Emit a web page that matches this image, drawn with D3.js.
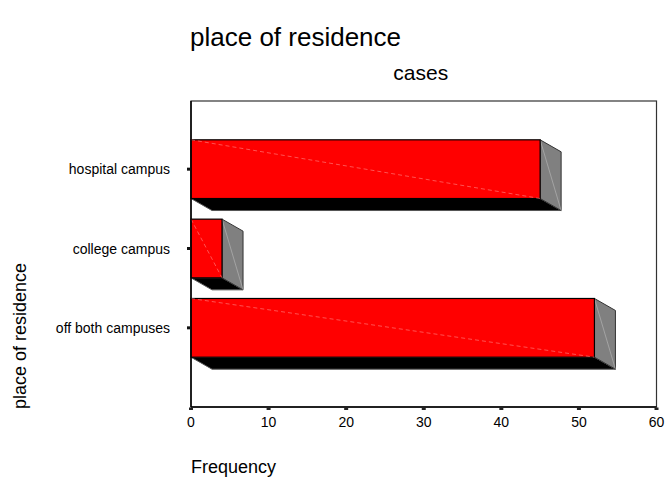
<!DOCTYPE html>
<html>
<head>
<meta charset="utf-8">
<script src="https://cdn.jsdelivr.net/npm/d3@7"></script>
<style>
  html, body { margin: 0; padding: 0; background: #fff; }
  svg { display: block; font-family: Arial, "Liberation Sans", sans-serif; }
</style>
</head>
<body>
<svg id="chart" width="668" height="483"></svg>
<script>
// Residence categories and case counts
const categories = ["hospital campus", "college campus", "off both campuses"];
const frequencies = [45, 4, 52];
const xTicks = [0, 10, 20, 30, 40, 50, 60];

const chartTitle = "place of residence";
const panelTitle = "cases";
const xTitle = "Frequency";
const yTitle = "place of residence";

const W = 668, H = 483;
const frame = { left: 191, top: 101, right: 656.5, bottom: 407 };
const depth = { dx: 21, dy: 12 };

const svg = d3.select("#chart");

const x = d3.scaleLinear().domain([0, 60]).range([frame.left, frame.right]);
const y = d3.scaleBand()
  .domain(categories)
  .range([frame.top + 28.5, frame.bottom - 39.5])
  .paddingInner(0.26)
  .paddingOuter(0.13);

// Plot frame
svg.append("rect")
  .attr("x", frame.left).attr("y", frame.top)
  .attr("width", frame.right - frame.left)
  .attr("height", frame.bottom - frame.top)
  .attr("fill", "none").attr("stroke", "#333").attr("stroke-width", 1.2);

// Bars drawn as extruded boxes: bottom face, end face, front face
const bars = svg.append("g").selectAll("g")
  .data(categories.map((c, i) => ({ c, v: frequencies[i] })))
  .join("g");

const pts = arr => arr.map(p => p.join(",")).join(" ");

bars.append("polygon")
  .attr("points", d => {
    const x0 = x(0), x1 = x(d.v), yb = y(d.c) + y.bandwidth();
    return pts([[x0, yb], [x1, yb], [x1 + depth.dx, yb + depth.dy], [x0 + depth.dx, yb + depth.dy]]);
  })
  .attr("fill", "#000").attr("stroke", "#555").attr("stroke-width", 1);

bars.append("polygon")
  .attr("points", d => {
    const x1 = x(d.v), yt = y(d.c), yb = yt + y.bandwidth();
    return pts([[x1, yt], [x1 + depth.dx, yt + depth.dy], [x1 + depth.dx, yb + depth.dy], [x1, yb]]);
  })
  .attr("fill", "#808080").attr("stroke", "#333").attr("stroke-width", 1);

bars.append("line")
  .attr("x1", d => x(d.v)).attr("y1", d => y(d.c))
  .attr("x2", d => x(d.v) + depth.dx).attr("y2", d => y(d.c) + y.bandwidth() + depth.dy)
  .attr("stroke", "#bbb").attr("stroke-width", 0.6);

bars.append("rect")
  .attr("x", x(0)).attr("y", d => y(d.c))
  .attr("width", d => x(d.v) - x(0))
  .attr("height", y.bandwidth())
  .attr("fill", "#ff0000").attr("stroke", "#000").attr("stroke-width", 1.2);

bars.append("line")
  .attr("x1", x(0)).attr("y1", d => y(d.c))
  .attr("x2", d => x(d.v)).attr("y2", d => y(d.c) + y.bandwidth())
  .attr("stroke", "#ff8a8a").attr("stroke-width", 0.6)
  .attr("stroke-dasharray", "4,3");

// Axis lines
svg.append("line")
  .attr("x1", frame.left).attr("x2", frame.left)
  .attr("y1", frame.top).attr("y2", frame.bottom)
  .attr("stroke", "#000").attr("stroke-width", 1.5);
svg.append("line")
  .attr("x1", frame.left).attr("x2", frame.right)
  .attr("y1", frame.bottom).attr("y2", frame.bottom)
  .attr("stroke", "#000").attr("stroke-width", 1.5);

// X axis ticks and labels
const xAxis = svg.append("g");
xAxis.selectAll("rect").data(xTicks).join("rect")
  .attr("x", d => x(d) - 2).attr("y", frame.bottom + 0.5)
  .attr("width", 4).attr("height", 2.5).attr("fill", "#222");
xAxis.selectAll("text").data(xTicks).join("text")
  .attr("x", d => x(d)).attr("y", 427)
  .attr("text-anchor", "middle").attr("font-size", 14).attr("fill", "#000")
  .text(d => d);

// Y axis ticks and category labels
const yAxis = svg.append("g");
yAxis.selectAll("rect").data(categories).join("rect")
  .attr("x", frame.left - 4).attr("y", d => y(d) + y.bandwidth() / 2 - 1.5)
  .attr("width", 3).attr("height", 3).attr("fill", "#111");
yAxis.selectAll("text").data(categories).join("text")
  .attr("x", 170).attr("y", d => y(d) + y.bandwidth() / 2 + 5)
  .attr("text-anchor", "end").attr("font-size", 14).attr("fill", "#000")
  .text(d => d);

// Titles
svg.append("text").attr("x", 190).attr("y", 46)
  .attr("font-size", 26).attr("fill", "#000").text(chartTitle);
svg.append("text").attr("x", (frame.left + frame.right) / 2 - 3).attr("y", 80)
  .attr("text-anchor", "middle").attr("font-size", 21).attr("fill", "#000").text(panelTitle);
svg.append("text").attr("x", 191).attr("y", 473)
  .attr("font-size", 18).attr("fill", "#000").text(xTitle);
svg.append("text")
  .attr("transform", "translate(26,336) rotate(-90)")
  .attr("text-anchor", "middle").attr("font-size", 18).attr("fill", "#000").text(yTitle);
</script>
</body>
</html>
